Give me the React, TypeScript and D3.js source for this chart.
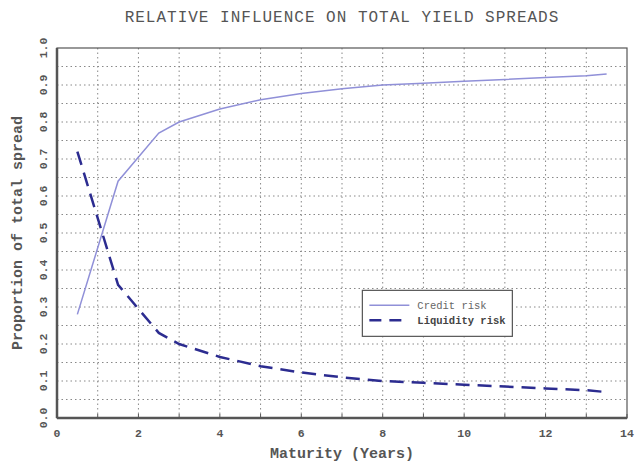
import React, { useEffect, useRef } from 'react';
import * as d3 from 'd3';

// maturity points (years)
const maturity = [0.5, 1.5, 2.5, 3, 4, 5, 6, 7, 8, 9, 10, 11, 12, 13, 13.5];
const creditRisk = [0.28, 0.64, 0.77, 0.80, 0.835, 0.86, 0.877, 0.89, 0.90, 0.905, 0.91, 0.915, 0.92, 0.925, 0.93];
const liquidityRisk = [0.72, 0.36, 0.23, 0.20, 0.165, 0.14, 0.123, 0.11, 0.10, 0.095, 0.09, 0.085, 0.08, 0.075, 0.07];

const xTicks = [0, 2, 4, 6, 8, 10, 12, 14];
const yTicks = [0, 0.1, 0.2, 0.3, 0.4, 0.5, 0.6, 0.7, 0.8, 0.9, 1.0];

const W = 635, H = 465;
const margin = { top: 48, right: 8, bottom: 47, left: 57 };
const FONT = '"Liberation Mono", "DejaVu Sans Mono", monospace';

const App = () => {
  const ref = useRef<SVGSVGElement>(null);

  useEffect(() => {
    const svg = d3.select(ref.current);
    svg.selectAll('*').remove();
    const width = W - margin.left - margin.right;
    const height = H - margin.top - margin.bottom;

    const x = d3.scaleLinear().domain([0, 14]).range([0, width]);
    const y = d3.scaleLinear().domain([0, 1]).range([height, 0]);

    const g = svg.append('g').attr('transform', `translate(${margin.left},${margin.top})`);

    // grid
    g.selectAll('.vgrid').data(d3.range(1, 14)).enter().append('line')
      .attr('x1', d => x(d)).attr('x2', d => x(d))
      .attr('y1', 0).attr('y2', height)
      .attr('stroke', '#888').attr('stroke-width', 1).attr('stroke-dasharray', '1.5,3');
    g.selectAll('.hgrid').data(d3.range(1, 20).map(d => d * 0.05)).enter().append('line')
      .attr('y1', d => y(d)).attr('y2', d => y(d))
      .attr('x1', 0).attr('x2', width)
      .attr('stroke', '#888').attr('stroke-width', 1).attr('stroke-dasharray', '1.5,3');

    // frame
    g.append('rect').attr('width', width).attr('height', height)
      .attr('fill', 'none').attr('stroke', '#555').attr('stroke-width', 1.2);
    g.append('line').attr('x1', 0).attr('x2', width).attr('y1', height).attr('y2', height)
      .attr('stroke', '#555').attr('stroke-width', 2.5);
    g.append('line').attr('x1', 0).attr('x2', 0).attr('y1', 0).attr('y2', height)
      .attr('stroke', '#555').attr('stroke-width', 2.5);

    // x axis ticks + labels
    g.selectAll('.xt').data(d3.range(0, 15)).enter().append('line')
      .attr('x1', d => x(d)).attr('x2', d => x(d))
      .attr('y1', height).attr('y2', height - 4)
      .attr('stroke', '#555');
    g.selectAll('.xl').data(xTicks).enter().append('text')
      .attr('x', d => x(d)).attr('y', height + 19)
      .attr('text-anchor', 'middle')
      .attr('font-family', FONT).attr('font-size', 11.5).attr('fill', '#555').attr('font-weight', 'bold')
      .text(d => d);

    // y axis labels (rotated)
    g.selectAll('.yl').data(yTicks).enter().append('text')
      .attr('transform', d => `translate(-10,${y(d)}) rotate(-90)`)
      .attr('text-anchor', 'middle')
      .attr('font-family', FONT).attr('font-size', 11.5).attr('fill', '#555').attr('font-weight', 'bold')
      .text(d => d.toFixed(1));

    // lines
    const credit = maturity.map((m, i) => [m, creditRisk[i]] as [number, number]);
    const liquidity = maturity.map((m, i) => [m, liquidityRisk[i]] as [number, number]);
    const line = d3.line<[number, number]>().x(d => x(d[0])).y(d => y(d[1]));

    g.append('path').attr('d', line(credit)!)
      .attr('fill', 'none').attr('stroke', '#9090d8').attr('stroke-width', 1.5);
    g.append('path').attr('d', line(liquidity)!)
      .attr('fill', 'none').attr('stroke', '#2c2c90').attr('stroke-width', 2.5)
      .attr('stroke-dasharray', '14,8');

    // legend
    const lg = g.append('g').attr('transform', `translate(${x(7.5)},${y(0.345)})`);
    lg.append('rect').attr('width', 150).attr('height', 46)
      .attr('fill', 'white').attr('stroke', '#555').attr('stroke-width', 1.2);
    lg.append('line').attr('x1', 7).attr('x2', 47).attr('y1', 15).attr('y2', 15)
      .attr('stroke', '#9090d8').attr('stroke-width', 1.5);
    lg.append('line').attr('x1', 7).attr('x2', 47).attr('y1', 30).attr('y2', 30)
      .attr('stroke', '#2c2c90').attr('stroke-width', 2.5).attr('stroke-dasharray', '12,8');
    lg.append('text').attr('x', 55).attr('y', 18.5).text('Credit risk')
      .attr('font-family', FONT).attr('font-size', 10.5).attr('fill', '#666');
    lg.append('text').attr('x', 55).attr('y', 33.5).text('Liquidity risk')
      .attr('font-family', FONT).attr('font-size', 10.5).attr('fill', '#444').attr('font-weight', 'bold');

    // titles
    svg.append('text').attr('x', margin.left + width / 2).attr('y', 22)
      .attr('text-anchor', 'middle').attr('font-family', FONT).attr('font-size', 16)
      .attr('letter-spacing', 1).attr('fill', '#555')
      .text('RELATIVE INFLUENCE ON TOTAL YIELD SPREADS');
    svg.append('text').attr('x', margin.left + width / 2).attr('y', 458)
      .attr('text-anchor', 'middle').attr('font-family', FONT).attr('font-size', 15)
      .attr('fill', '#555').attr('font-weight', 'bold')
      .text('Maturity (Years)');
    svg.append('text')
      .attr('transform', `translate(22,${margin.top + height / 2}) rotate(-90)`)
      .attr('text-anchor', 'middle').attr('font-family', FONT).attr('font-size', 15)
      .attr('fill', '#555').attr('font-weight', 'bold')
      .text('Proportion of total spread');
  }, []);

  return (
    <svg ref={ref} width={W} height={H}
      style={{ position: 'absolute', left: 0, top: 0, background: 'white' }} />
  );
};

export default App;
